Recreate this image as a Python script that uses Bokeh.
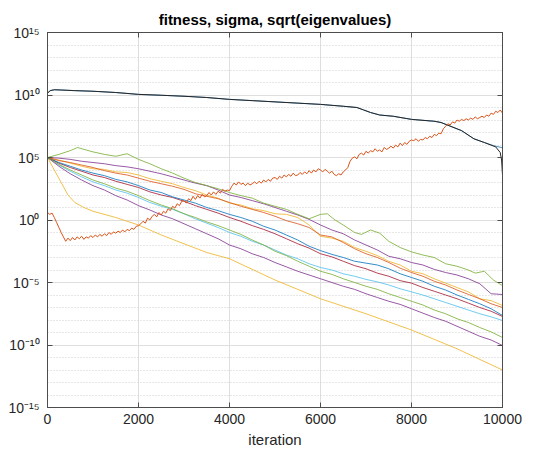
from bokeh.plotting import figure
from bokeh.models import FixedTicker, LinearAxis, LogAxis, Range1d, CustomJSTickFormatter
from bokeh.embed import file_html
from bokeh.resources import INLINE

# ---------------- data (log10 of values) ----------------
x_ticks = [0, 2000, 4000, 6000, 8000, 10000]
y_ticks = [1e-15, 1e-10, 1e-5, 1e0, 1e5, 1e10, 1e15]
y_tick_labels = ["10⁻¹⁵", "10⁻¹⁰", "10⁻⁵", "10⁰", "10⁵", "10¹⁰", "10¹⁵"]

# black line
black_it = [0, 60, 150, 300, 600, 1000, 1500, 2000, 2500, 3000, 3500, 4000, 4500, 5000, 5500,
            6000, 6500, 6800, 6950, 7100, 7300, 7600, 8000, 8500, 8650, 9100, 9370, 9600,
            9850, 9950, 9980, 10000]
black_log = [10.15, 10.35, 10.42, 10.4, 10.35, 10.3, 10.2, 10.05, 9.98, 9.9, 9.8, 9.65, 9.55, 9.45, 9.35,
             9.25, 9.1, 9.0, 8.8, 8.6, 8.4, 8.3, 8.05, 7.9, 7.8, 7.15, 6.5, 6.2,
             5.85, 5.4, 4.8, 3.6]

# blue line (fitness), hidden under black until ~9600
fit_it = [0, 60, 150, 300, 600, 1000, 1500, 2000, 2500, 3000, 3500, 4000, 4500, 5000, 5500,
          6000, 6500, 6800, 6950, 7100, 7300, 7600, 8000, 8500, 8650, 9100, 9370, 9600,
          9800, 10000]
fit_log = [10.15, 10.35, 10.42, 10.4, 10.35, 10.3, 10.2, 10.05, 9.98, 9.9, 9.8, 9.65, 9.55, 9.45, 9.35,
           9.25, 9.1, 9.0, 8.8, 8.6, 8.4, 8.3, 8.05, 7.9, 7.8, 7.15, 6.5, 6.2,
           5.95, 5.78]

# orange line (sigma), one value every 50 iterations
sigma_it = list(range(0, 10001, 50))
sigma_log = [0.6, 0.45, 0.55, 0.2, -0.2, -0.6, -1.0, -1.35, -1.7, -1.45, -1.65,
             -1.4, -1.6, -1.35, -1.5, -1.3, -1.55, -1.35, -1.45, -1.25, -1.4,
             -1.2, -1.35, -1.15, -1.3, -1.1, -1.25, -1.0, -1.15, -0.95, -1.05,
             -0.9, -1.0, -0.8, -0.95, -0.75, -0.85, -0.65, -0.75, -0.5, -0.45,
             -0.3, -0.1, -0.25, 0.15, 0.0, 0.3, 0.45, 0.25, 0.6, 0.4,
             0.7, 0.55, 0.9, 0.75, 1.1, 0.95, 1.3, 1.15, 1.5, 1.55,
             1.35, 1.7, 1.55, 1.9, 1.65, 1.95, 1.75, 2.05, 1.85, 1.95,
             2.2, 2.0, 2.25, 2.05, 2.3, 2.15, 2.45, 2.3, 2.4, 2.35,
             2.7, 2.95, 2.8, 3.05, 2.85, 2.95, 2.75, 2.95, 2.8, 2.9,
             3.05, 2.9, 3.1, 2.95, 3.2, 3.05, 3.25, 3.1, 3.35, 3.4,
             3.25, 3.5, 3.35, 3.6, 3.45, 3.65, 3.5, 3.75, 3.55, 3.6,
             3.8, 3.65, 3.85, 3.7, 3.95, 3.75, 4.0, 3.85, 4.1, 4.0,
             3.85, 4.05, 3.9, 3.75, 3.9, 3.65, 3.55, 3.7, 3.6, 3.85,
             4.0, 4.2, 4.7, 4.95, 5.05, 4.9, 5.25, 5.35, 5.2, 5.5,
             5.35, 5.55, 5.45, 5.7, 5.5, 5.6, 5.45, 5.8, 5.65, 5.75,
             5.9, 5.75, 6.0, 5.85, 6.15, 5.95, 6.2, 6.05, 6.3, 6.4,
             6.35, 6.5, 6.3, 6.45, 6.4, 6.6, 6.5, 6.7, 6.6, 6.85,
             6.75, 6.95, 6.9, 7.3, 7.5, 7.7, 7.6, 7.85, 7.75, 8.0,
             7.9, 8.05, 7.95, 8.1, 8.0, 8.15, 8.05, 8.25, 8.1, 8.2,
             8.3, 8.2, 8.4, 8.3, 8.55, 8.45, 8.7, 8.6, 8.8, 8.55]

# sqrt(eigenvalues), one value every 250 iterations
eig_it = list(range(0, 10001, 250))

green1_it = [0, 250, 500, 660, 800, 1000, 1250, 1500, 1750, 2000, 2250, 2500, 2750, 3000, 3250,
             3500, 3750, 4000, 4250, 4500, 4750, 5000, 5250, 5500, 5750, 6000, 6150, 6300, 6500,
             6750, 6900, 7100, 7300, 7500, 7750, 8000, 8250, 8500, 8750, 9000, 9250, 9400, 9600,
             9800, 10000]
green1_log = [5.0, 5.25, 5.55, 5.8, 5.65, 5.45, 5.25, 5.1, 5.3, 4.85, 4.5, 4.1, 3.75, 3.35, 3.0,
              2.75, 2.5, 2.2, 1.95, 1.75, 1.35, 1.1, 0.85, 0.45, 0.1, 0.45, 0.5, 0.05, -0.4,
              -1.0, -1.15, -0.8, -1.05, -1.7, -2.2, -2.55, -2.8, -3.0, -3.5, -3.7, -4.0, -4.25, -4.1,
              -4.8, -5.25]

purple1_log = [5.0, 4.95, 4.85, 4.7, 4.6, 4.5, 4.35, 4.25, 4.1, 3.9, 3.7, 3.45, 3.2, 2.95, 2.75,
               2.4, 2.0, 1.8, 1.55, 1.3, 1.0, 0.7, 0.4, 0.05, -0.4, -0.8, -1.1, -1.6, -2.0,
               -2.4, -2.9, -3.1, -3.4, -3.6, -3.95, -4.2, -4.4, -4.7, -5.1, -5.9, -5.96]
yellow1_log = [5.0, 4.8, 4.55, 4.3, 4.1, 4.05, 3.85, 3.8, 3.6, 3.3, 3.1, 2.9, 2.6, 2.35, 2.0,
               1.75, 1.35, 1.2, 0.9, 0.75, 0.5, 0.45, 0.2, -0.4, -1.3, -1.45, -1.7, -2.2, -2.5,
               -2.85, -3.3, -3.6, -4.1, -4.3, -4.7, -5.05, -5.4, -5.75, -6.3, -6.45, -6.84]
orange1_log = [5.0, 4.75, 4.6, 4.4, 4.2, 3.95, 3.75, 3.6, 3.35, 3.1, 2.9, 2.7, 2.45, 2.1, 1.9,
               1.7, 1.4, 1.1, 0.85, 0.6, 0.3, -0.05, -0.3, -0.6, -1.2, -1.35, -1.8, -2.3, -2.7,
               -3.0, -3.4, -3.85, -4.2, -4.5, -4.9, -5.2, -5.6, -5.95, -6.3, -6.7, -7.0]
blue1_log = [5.0, 4.6, 4.3, 4.0, 3.75, 3.55, 3.25, 3.05, 2.75, 2.4, 2.2, 1.85, 1.6, 1.35, 1.0,
             0.75, 0.45, 0.2, -0.1, -0.5, -0.8, -1.2, -1.6, -2.1, -2.45, -2.75, -3.0, -3.3, -3.45,
             -3.6, -3.9, -4.3, -4.6, -4.9, -5.3, -5.6, -6.0, -6.35, -6.7, -7.1, -7.64]
red1_log = [5.0, 4.55, 4.2, 3.9, 3.6, 3.4, 3.1, 2.85, 2.6, 2.25, 2.0, 1.8, 1.5, 1.15, 0.85,
            0.55, 0.2, -0.1, -0.45, -0.75, -1.1, -1.5, -1.9, -2.25, -2.7, -2.95, -3.3, -3.65, -3.9,
            -4.25, -4.5, -4.85, -5.05, -5.4, -5.7, -6.0, -6.3, -6.65, -7.0, -7.3, -7.72]
cyan1_log = [5.0, 4.4, 3.9, 3.45, 3.05, 2.75, 2.4, 2.15, 1.8, 1.4, 1.1, 0.85, 0.5, 0.1, -0.25,
             -0.6, -1.0, -1.3, -1.7, -2.0, -2.4, -2.8, -3.1, -3.5, -3.8, -4.0, -4.3, -4.5, -4.75,
             -4.95, -5.2, -5.5, -5.75, -6.0, -6.3, -6.6, -6.9, -7.2, -7.5, -7.75, -8.04]
green2_log = [5.0, 4.45, 4.0, 3.6, 3.2, 2.9, 2.55, 2.3, 1.95, 1.55, 1.2, 0.9, 0.5, 0.2, -0.15,
              -0.45, -0.8, -1.15, -1.6, -2.0, -2.5, -2.85, -3.3, -3.7, -4.1, -4.35, -4.7, -5.0, -5.3,
              -5.55, -5.9, -6.2, -6.5, -6.8, -7.2, -7.5, -7.9, -8.2, -8.6, -8.95, -9.4]
purple2_log = [5.0, 4.3, 3.7, 3.2, 2.75, 2.4, 1.95, 1.6, 1.15, 0.8, 0.4, 0.1, -0.3, -0.7, -1.1,
               -1.5, -2.0, -2.3, -2.7, -3.0, -3.4, -3.75, -4.1, -4.4, -4.7, -5.0, -5.3, -5.55, -5.9,
               -6.2, -6.5, -6.75, -7.1, -7.45, -7.8, -8.1, -8.5, -8.9, -9.3, -9.6, -10.04]

yellow2_it = [0, 150, 300, 450, 600, 800, 1000, 1200, 1500, 2000, 2500, 3000, 3500, 4000, 5000,
              6000, 7000, 8000, 9000, 10000]
yellow2_log = [5.0, 4.0, 3.0, 2.0, 1.4, 1.0, 0.7, 0.5, 0.2, -0.4, -1.2, -1.9, -2.6, -3.1, -4.8,
               -6.3, -7.5, -8.8, -10.3, -12.0]

# ---------------- figure ----------------
FONT = "Liberation Sans"
p = figure(width=546, height=456, y_axis_type="log",
           x_range=Range1d(0, 10000), y_range=Range1d(1e-15, 1e15),
           output_backend="svg", toolbar_location=None,
           min_border_left=47, min_border_right=44, min_border_top=32, min_border_bottom=49)

p.title.text = "fitness, sigma, sqrt(eigenvalues)"
p.title.align = "center"
p.title.text_font = FONT
p.title.text_font_size = "15px"
p.title.text_font_style = "bold"
p.title.text_color = "#000000"

p.background_fill_color = "white"
p.border_fill_color = "white"
p.outline_line_color = "#4d4d4d"
p.outline_line_width = 1

minor_decades = [10.0 ** k for k in range(-15, 16)]

# axes
xa = p.xaxis[0]
xa.ticker = FixedTicker(ticks=x_ticks)
xa.axis_label = "iteration"
ya = p.yaxis[0]
ya.ticker = FixedTicker(ticks=y_ticks, minor_ticks=minor_decades)
ya.major_label_overrides = {t: lab for t, lab in zip(y_ticks, y_tick_labels)}

for ax in (xa, ya):
    ax.axis_line_color = "#4d4d4d"
    ax.major_tick_line_color = "#4d4d4d"
    ax.minor_tick_line_color = None
    ax.major_tick_in = 5
    ax.major_tick_out = 0
    ax.major_label_text_font = FONT
    ax.major_label_text_color = "#262626"
    ax.axis_label_text_font = FONT
    ax.axis_label_text_font_style = "normal"
    ax.axis_label_text_color = "#262626"
xa.major_label_text_font_size = "14px"
xa.axis_label_text_font_size = "15px"
xa.major_label_standoff = 6
xa.axis_label_standoff = 4
ya.major_label_text_font_size = "14px"
ya.major_label_standoff = 4

blank = CustomJSTickFormatter(code="return ''")
top = LinearAxis(ticker=FixedTicker(ticks=x_ticks), formatter=blank)
right = LogAxis(ticker=FixedTicker(ticks=y_ticks, minor_ticks=minor_decades), formatter=blank)
for ax in (top, right):
    ax.axis_line_color = "#4d4d4d"
    ax.major_tick_line_color = "#4d4d4d"
    ax.minor_tick_line_color = None
    ax.major_tick_in = 5
    ax.major_tick_out = 0
    ax.major_label_standoff = 0
    ax.major_label_text_font_size = "1px"
p.add_layout(top, "above")
p.add_layout(right, "right")

# grids
p.xgrid.grid_line_color = "#dedede"
p.xgrid.grid_line_width = 1
p.ygrid.grid_line_color = "#dedede"
p.ygrid.grid_line_width = 1
p.ygrid.minor_grid_line_color = "#cfcfcf"
p.ygrid.minor_grid_line_dash = "1 2"
p.ygrid.minor_grid_line_width = 1

# ---------------- lines ----------------
def pw(lst):
    return [10.0 ** v for v in lst]

eig_series = [
    (eig_it, yellow1_log, "#EDB120"),
    (eig_it, purple1_log, "#7E2F8E"),
    (green1_it, green1_log, "#77AC30"),
    (eig_it, cyan1_log, "#4DBEEE"),
    (eig_it, red1_log, "#A2142F"),
    (eig_it, blue1_log, "#0072BD"),
    (eig_it, orange1_log, "#D95319"),
    (yellow2_it, yellow2_log, "#EDB120"),
    (eig_it, purple2_log, "#7E2F8E"),
    (eig_it, green2_log, "#77AC30"),
]
for xs, ys, col in eig_series:
    p.line(xs, pw(ys), line_color=col, line_width=1.0, line_alpha=0.8)

p.line(fit_it, pw(fit_log), line_color="#2f7fb8", line_width=1.0, line_alpha=0.85)
p.line(black_it, pw(black_log), line_color="#262626", line_width=1.0)
p.line(sigma_it, pw(sigma_log), line_color="#D95319", line_width=1.0)

open("out.html", "w").write(file_html(p, INLINE))
